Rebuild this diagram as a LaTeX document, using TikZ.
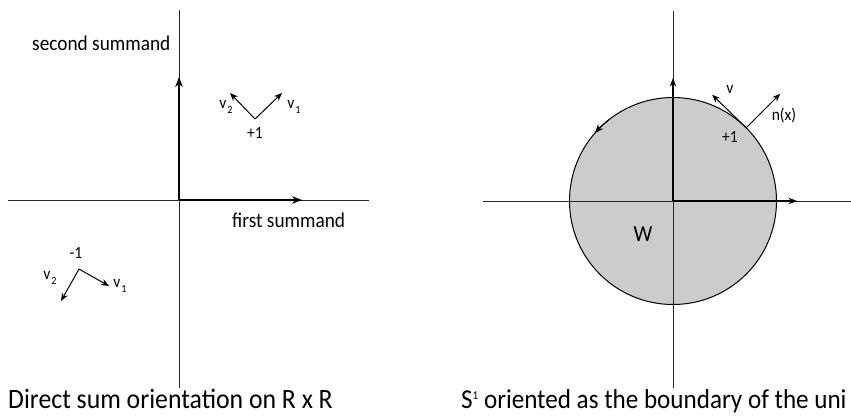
\documentclass[tikz,border=0pt]{standalone}
\usepackage{fontspec}
\setmainfont{Carlito}[FakeStretch=0.92]
\usetikzlibrary{arrows.meta}
\tikzset{
  thin axis/.style={line width=0.9pt, black!85},
  axis arrow/.style={line width=1.6pt, -{Stealth[length=10pt,width=7.5pt]}},
  small axis arrow/.style={line width=1.1pt, -{Stealth[length=8.5pt,width=6.5pt]}},
  vec/.style={line width=1pt, -{Stealth[length=8pt,width=6.5pt]}},
  lbl/.style={inner sep=0pt, font=\fontsize{17}{17}\selectfont},
  biglbl/.style={inner sep=0pt, font=\fontsize{21}{22}\selectfont},
  captext/.style={inner sep=0pt, anchor=base west, font=\fontsize{28}{30}\selectfont},
}
\newcommand{\vsub}[1]{v\kern1pt\raisebox{-5pt}{\fontsize{11}{11}\selectfont #1}}
\begin{document}
\begin{tikzpicture}[x=1pt,y=-1pt]
\useasboundingbox (0,0) rectangle (851,415);
% ---------- left panel ----------
\coordinate (LO) at (179,200);
\coordinate (LL) at (8,200);
\coordinate (LR) at (369,200);
\coordinate (LT) at (179,10);
\coordinate (LB) at (179,388);
\coordinate (LX) at (302,200);
\coordinate (LY) at (179,77);
\draw[thin axis] (LL) -- (LR);
\draw[thin axis] (LT) -- (LB);
\draw[axis arrow] (LO) -- (LX);
\draw[axis arrow] (LO) -- (LY);
\node[biglbl, anchor=west] (sec) at (32,43) {second summand};
\node[biglbl, anchor=west] (fir) at (232,220) {first summand};
% +1 frame
\coordinate (P) at (255,119);
\coordinate (P1) at (282,93);
\coordinate (P2) at (230,93);
\draw[vec] (P) -- (P1);
\draw[vec] (P) -- (P2);
\node[lbl] (pv2) at (226,107) {\vsub{2}};
\node[lbl] (pv1) at (294,107) {\vsub{1}};
\node[lbl] (pone) at (255,133) {+1};
% -1 frame
\coordinate (M) at (79,269);
\coordinate (M1) at (109,286);
\coordinate (M2) at (61,301);
\draw[vec] (M) -- (M1);
\draw[vec] (M) -- (M2);
\node[lbl] (mone) at (76,253) {-1};
\node[lbl] (mv2) at (50,278) {\vsub{2}};
\node[lbl] (mv1) at (120,286) {\vsub{1}};
\node[captext] (capL) at (8,408) {Direct sum orientation on R x R};
% ---------- right panel ----------
\coordinate (RO) at (673,201);
\fill[black!20] (RO) circle (103.5);
\draw[line width=1pt] (RO) circle (103.5);
\draw[line width=1pt, -{Stealth[length=9pt,width=7pt]}] (RO) ++(-128:103.5) arc (-128:-139:103.5);
\coordinate (RL) at (483,201);
\coordinate (RR) at (851,201);
\coordinate (RT) at (673,11);
\coordinate (RB) at (673,388);
\coordinate (RX) at (797,201);
\coordinate (RY) at (673,78);
\draw[thin axis] (RL) -- (RR);
\draw[thin axis] (RT) -- (RB);
\draw[small axis arrow] (RO) -- (RX);
\draw[small axis arrow] (RO) -- (RY);
\path (RO) ++(-45:103.5) coordinate (Q);
\draw[vec] (Q) -- ++(-34,-33) coordinate (QV);
\draw[vec] (Q) -- ++(34,-34) coordinate (QN);
\node[lbl] (vl) at (730,89) {v};
\node[lbl] (nl) at (784,115) {n(x)};
\node[lbl] (rone) at (730,137) {+1};
\node[lbl, font=\fontsize{23}{23}\selectfont] (W) at (643,234) {W};
\node[captext, font=\fontsize{27.3}{30}\selectfont] (capR) at (461,408) {S\raisebox{9pt}{\fontsize{12}{12}\selectfont 1} oriented as the boundary of the uni};
\end{tikzpicture}
\end{document}
